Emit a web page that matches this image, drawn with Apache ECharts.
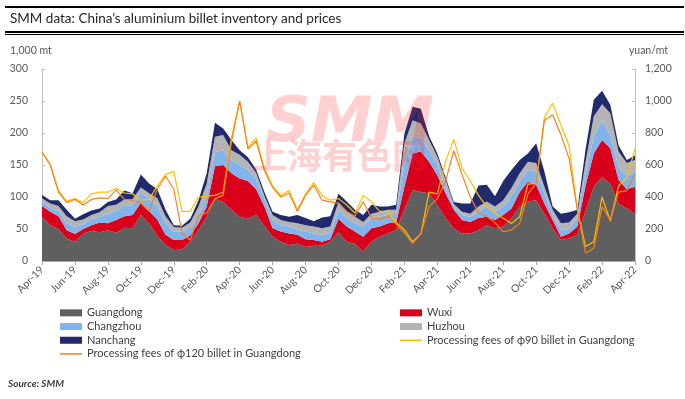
<!DOCTYPE html>
<html>
<head>
<meta charset="utf-8">
<script src="https://cdn.jsdelivr.net/npm/echarts@6/dist/echarts.min.js"></script>
<style>
  html, body { margin: 0; padding: 0; background: #fff; }
  #chart { width: 685px; height: 399px; }
</style>
</head>
<body>
<div id="chart"></div>
<script>
// half-monthly points, Apr-19 .. Apr-22
const categories = [];
for (let i = 0; i <= 72; i++) {
  const y = 2019 + Math.floor((3 + Math.floor(i / 2)) / 12);
  const mo = (3 + Math.floor(i / 2)) % 12 + 1;
  categories.push(y + '-' + String(mo).padStart(2, '0') + (i % 2 ? '-16' : '-01'));
}
const tickLabels = ['Apr-19', 'Jun-19', 'Aug-19', 'Oct-19', 'Dec-19', 'Feb-20', 'Apr-20', 'Jun-20', 'Aug-20',
  'Oct-20', 'Dec-20', 'Feb-21', 'Apr-21', 'Jun-21', 'Aug-21', 'Oct-21', 'Dec-21', 'Feb-22', 'Apr-22'];

// inventory, 1,000 mt
const guangdong = [69, 56, 50, 35, 30, 43, 47, 45, 48, 44, 52, 51, 72, 59, 40, 25, 17, 18, 30, 48,
  69, 97, 92, 80, 69, 66, 72, 55, 38, 30, 25, 27, 22, 24, 24, 30, 45, 30, 27, 15,
  30, 38, 43, 49, 80, 111, 108, 106, 88, 67, 51, 43, 43, 48, 56, 51, 54, 67, 85, 93,
  95, 74, 51, 33, 35, 41, 78, 116, 131, 121, 90, 82, 74];
const wuxi = [17, 21, 20, 13, 12, 7, 9, 15, 11, 20, 18, 21, 19, 19, 25, 16, 16, 15, 10, 11,
  16, 51, 58, 57, 60, 59, 40, 30, 13, 16, 18, 14, 12, 9, 6, 4, 21, 24, 19, 23,
  21, 16, 16, 11, 36, 57, 63, 49, 46, 39, 29, 21, 18, 19, 13, 13, 18, 15, 23, 31,
  24, 16, 13, 5, 8, 13, 40, 52, 58, 55, 37, 30, 42];
const changzhou = [7, 6, 8, 11, 11, 8, 9, 9, 15, 14, 16, 15, 16, 20, 20, 18, 13, 13, 12, 10,
  16, 22, 23, 21, 21, 17, 16, 11, 13, 10, 11, 8, 12, 10, 11, 10, 14, 13, 13, 16,
  16, 15, 13, 12, 37, 26, 21, 18, 16, 8, 5, 8, 8, 10, 16, 13, 13, 19, 16, 18,
  21, 16, 8, 10, 7, 13, 20, 26, 31, 21, 20, 20, 24];
const huzhou = [5, 7, 8, 11, 9, 7, 7, 7, 12, 10, 10, 10, 8, 8, 13, 11, 7, 6, 8, 16,
  20, 24, 24, 15, 16, 13, 10, 6, 8, 8, 7, 10, 10, 11, 10, 10, 12, 10, 10, 7,
  7, 8, 8, 8, 31, 26, 23, 16, 13, 13, 4, 5, 5, 8, 8, 8, 10, 13, 13, 13,
  13, 10, 8, 11, 10, 7, 17, 32, 25, 34, 24, 21, 18];
const nanchang = [5, 5, 9, 10, 4, 8, 7, 6, 6, 8, 14, 9, 20, 15, 14, 10, 3, 3, 6, 10,
  16, 22, 10, 16, 7, 7, 5, 6, 5, 8, 8, 13, 11, 8, 17, 16, 13, 16, 11, 11,
  14, 8, 5, 8, 15, 21, 23, 6, 5, 4, 3, 13, 16, 33, 26, 16, 30, 28, 21, 13,
  31, 24, 5, 15, 16, 6, 20, 26, 21, 13, 10, 5, 7];

// processing fees, yuan/mt
const fee90 = [680, 605, 440, 375, 390, 365, 420, 430, 430, 455, 425, 420, 380, 385, 470, 540, 560, 310, 310, 400,
  405, 410, 430, 770, 1000, 710, 770, 580, 470, 410, 440, 320, 420, 490, 410, 380, 390, 350, 300, 410,
  370, 310, 310, 240, 195, 120, 170, 430, 420, 620, 760, 580, 500, 410, 340, 300, 267, 235, 277, 480,
  485, 900, 985, 850, 720, 320, 90, 120, 400, 250, 470, 520, 700];
const fee120 = [680, 600, 430, 365, 385, 350, 385, 395, 390, 445, 385, 380, 360, 310, 450, 530, 450, 175, 130, 285,
  300, 390, 410, 745, 1000, 700, 750, 565, 460, 400, 425, 310, 410, 475, 380, 370, 360, 310, 280, 370,
  270, 260, 280, 230, 175, 110, 170, 340, 390, 500, 690, 540, 400, 300, 280, 240, 183, 194, 235, 420,
  485, 880, 912, 790, 640, 320, 50, 80, 340, 255, 430, 440, 540];

const FONT = 'Lato, "Open Sans", sans-serif';
const txt = '#595959';

const chart = echarts.init(document.getElementById('chart'), null, { renderer: 'canvas' });

function area(name, data, color) {
  return {
    name, type: 'line', stack: 'inv', data, symbol: 'none', color,
    lineStyle: { width: 0 }, areaStyle: { color, opacity: 1 }
  };
}
function fee(name, data, color) {
  return {
    name, type: 'line', yAxisIndex: 1, data, symbol: 'none', color, z: 5,
    lineStyle: { width: 1.2, color }
  };
}

const legendBase = {
  orient: 'vertical', padding: 0, itemGap: 0, itemWidth: 22, itemHeight: 7, icon: 'rect',
  textStyle: { fontFamily: FONT, fontSize: 11, color: '#404040', lineHeight: 13.7 },
  selectedMode: false
};

chart.setOption({
  animation: false,
  backgroundColor: '#fff',
  grid: { left: 42, right: 50, top: 69, bottom: 138 },
  xAxis: {
    type: 'category', data: categories, boundaryGap: false,
    axisLine: { lineStyle: { color: '#a6a6a6' } },
    axisTick: { interval: i => i % 4 === 0, length: 4, lineStyle: { color: '#a6a6a6' } },
    axisLabel: {
      interval: i => i % 4 === 0, rotate: 45, margin: 7,
      formatter: (v, i) => tickLabels[i / 4] || '',
      fontFamily: FONT, fontSize: 10.5, color: txt
    }
  },
  yAxis: [{
    type: 'value', min: 0, max: 300, interval: 50,
    axisLine: { show: true, lineStyle: { color: '#bfbfbf' } },
    axisTick: { show: true, inside: true, length: 3, lineStyle: { color: '#bfbfbf' } },
    splitLine: { show: false },
    axisLabel: { fontFamily: FONT, fontSize: 10.5, color: txt, margin: 14 }
  }, {
    type: 'value', min: 0, max: 1200, interval: 200,
    axisLine: { show: true, lineStyle: { color: '#bfbfbf' } },
    axisTick: { show: true, inside: true, length: 3, lineStyle: { color: '#bfbfbf' } },
    splitLine: { show: false },
    axisLabel: {
      fontFamily: FONT, fontSize: 10.5, color: txt, margin: 10,
      formatter: v => v.toLocaleString('en-US')
    }
  }],
  legend: [
    Object.assign({}, legendBase, { left: 60, top: 306, data: ['Guangdong', 'Changzhou', 'Nanchang'] }),
    Object.assign({}, legendBase, { left: 400, top: 306, data: ['Wuxi', 'Huzhou'] }),
    Object.assign({}, legendBase, { left: 400, top: 333.4, itemHeight: 1.5, data: ['Processing fees of ϕ90 billet in Guangdong'] }),
    Object.assign({}, legendBase, { left: 60, top: 347.1, itemHeight: 1.5, data: ['Processing fees of ϕ120 billet in Guangdong'] })
  ],
  series: [
    area('Guangdong', guangdong, '#5f5f5f'),
    area('Wuxi', wuxi, '#d9001b'),
    area('Changzhou', changzhou, '#82b4ec'),
    area('Huzhou', huzhou, '#b4b4b4'),
    area('Nanchang', nanchang, '#202a6c'),
    fee('Processing fees of ϕ90 billet in Guangdong', fee90, '#ffc000'),
    fee('Processing fees of ϕ120 billet in Guangdong', fee120, '#f5821f')
  ],
  graphic: [
    { type: 'rect', shape: { x: 5, y: 6, width: 679, height: 2 }, style: { fill: '#000' } },
    { type: 'text', left: 10, top: 12, style: { text: 'SMM data: China\u2019s aluminium billet inventory and prices', font: '13.5px ' + FONT, fill: '#262626' } },
    { type: 'rect', shape: { x: 5, y: 31, width: 679, height: 2 }, style: { fill: '#000' } },
    { type: 'rect', shape: { x: 5, y: 34, width: 679, height: 1 }, style: { fill: '#000' } },
    { type: 'text', left: 10, top: 45, style: { text: '1,000 mt', font: '10.5px ' + FONT, fill: txt } },
    { type: 'text', right: 17, top: 45, style: { text: 'yuan/mt', font: '10.5px ' + FONT, fill: txt } },
    { type: 'text', left: 8, top: 379, style: { text: 'Source: SMM', font: 'italic bold 10px ' + FONT, fill: '#404040' } },
    // watermark
    { type: 'text', left: 266, top: 94, z: 100, silent: true, style: { text: 'SMM', font: 'italic bold 62px "DejaVu Sans"', fill: 'rgba(255,40,40,0.22)' } },
    { type: 'text', left: 252, top: 138, z: 100, silent: true, style: { text: '上海有色网', font: 'bold 35px "Noto Sans CJK SC"', fill: 'rgba(255,40,40,0.22)' } }
  ]
});
</script>
</body>
</html>
